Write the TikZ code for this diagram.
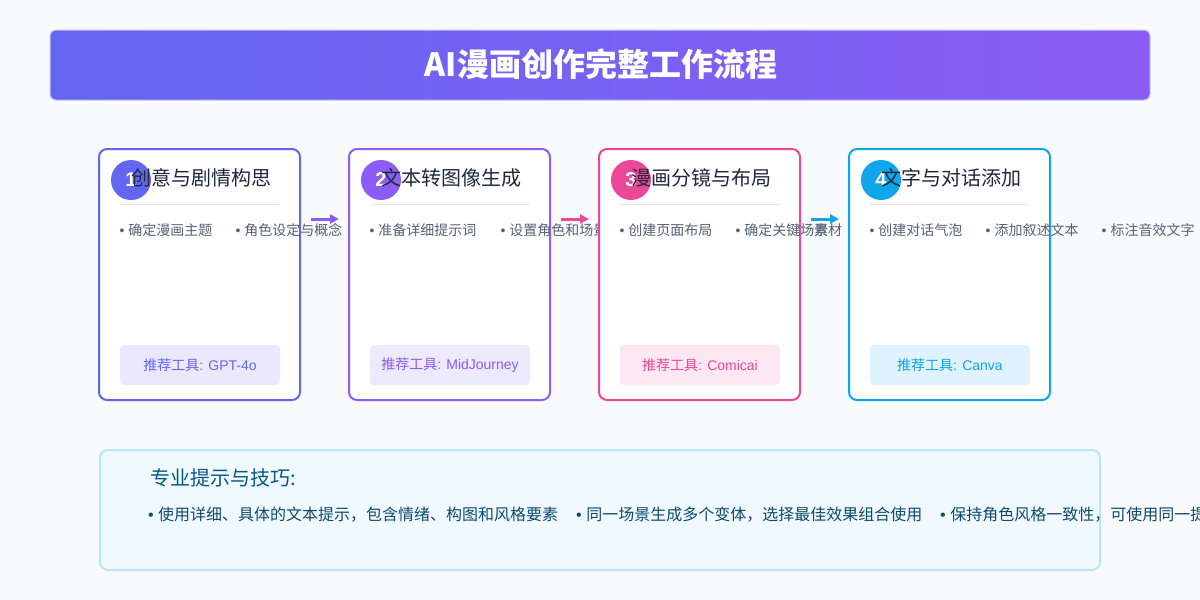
\documentclass[tikz,border=0pt]{standalone}
\usepackage{fontspec}
\setmainfont{Liberation Sans}
\newfontfamily\cjk{Noto Sans CJK SC}
\usetikzlibrary{arrows.meta}
\definecolor{bgc}{HTML}{F8FAFC}
\definecolor{ca}{HTML}{6366F1}
\definecolor{cb}{HTML}{8B5CF6}
\definecolor{cc}{HTML}{EC4899}
\definecolor{cd}{HTML}{0EA5E9}
\definecolor{ta}{HTML}{EBE8FD}
\definecolor{tb}{HTML}{EDE9FE}
\definecolor{tc}{HTML}{FCE7F3}
\definecolor{td}{HTML}{E0F2FE}
\definecolor{titletext}{HTML}{1E293B}
\definecolor{itemtext}{HTML}{556275}
\definecolor{sepc}{HTML}{E2E8F0}
\definecolor{tipfill}{HTML}{F0F9FF}
\definecolor{tipborder}{HTML}{BAE6FD}
\definecolor{tiptitle}{HTML}{075985}
\definecolor{tiptext}{HTML}{0C4A6E}
\definecolor{barborder}{HTML}{C7C4FA}
\tikzset{
  card/.style={draw=#1, line width=2pt, fill=white, rounded corners=8pt,
    minimum width=201pt, minimum height=251pt, inner sep=0pt},
  numdot/.style={circle, fill=#1, minimum size=40pt, inner sep=0pt,
    text=white, font=\bfseries\fontsize{20}{20}\selectfont},
  cardtitle/.style={anchor=west, inner sep=0pt, text=titletext,
    font=\cjk\fontsize{20}{22}\selectfont},
  item/.style={anchor=west, inner sep=0pt, text=itemtext,
    font=\fontsize{14}{16}\selectfont},
  toolbox/.style={fill=#1, rounded corners=4pt, minimum width=160pt,
    minimum height=40pt, inner sep=0pt, font=\fontsize{14}{16}\selectfont},
  flowarrow/.style={draw=#1, line width=3pt,
    -{Triangle[length=9pt,width=9pt]}},
  tipitem/.style={anchor=west, inner sep=0pt, text=tiptext,
    font=\fontsize{16}{18}\selectfont},
}
\newcommand{\bul}[1]{•\ {\cjk #1}}
\begin{document}
\begin{tikzpicture}[x=1pt,y=-1pt]
\fill[bgc] (0,0) rectangle (1200,600);
\useasboundingbox (0,0) rectangle (1200,600);
% title bar
\shade[left color=ca, right color=cb, rounded corners=6pt] (50,30) rectangle (1150,100);
\draw[barborder, line width=1pt, rounded corners=6pt] (50,30) rectangle (1150,100);
\node[text=white, font=\cjk\bfseries\fontsize{32}{34}\selectfont, inner sep=0pt] (title) at (601,64) {AI漫画创作完整工作流程};
% card 1
\node[card=ca] (c1) at (199.5,274.5) {};
\node[numdot=ca] (n1) at (131,180) {1};
\node[cardtitle] (t1) at (131,178) {创意与剧情构思};
\draw[sepc, line width=1.5pt] (120,204.5) -- (280,204.5);
\node[item] (i11) at (119.5,230) {\bul{确定漫画主题}};
\node[item] (i12) at (235.5,230) {\bul{角色设定与概念}};
\node[toolbox=ta, text=ca] (k1) at (200,365) {{\cjk 推荐工具}: GPT-4o};
% card 2
\node[card=cb] (c2) at (449.5,274.5) {};
\node[numdot=cb] (n2) at (381,180) {2};
\node[cardtitle] (t2) at (381,178) {文本转图像生成};
\draw[sepc, line width=1.5pt] (370,204.5) -- (530,204.5);
\node[item] (i21) at (369.5,230) {\bul{准备详细提示词}};
\node[item] (i22) at (500.5,230) {\bul{设置角色和场景}};
\node[toolbox=tb, text=cb] (k2) at (450,365) {{\cjk 推荐工具}: MidJourney};
% card 3
\node[card=cc] (c3) at (699.5,274.5) {};
\node[numdot=cc] (n3) at (631,180) {3};
\node[cardtitle] (t3) at (631,178) {漫画分镜与布局};
\draw[sepc, line width=1.5pt] (620,204.5) -- (780,204.5);
\node[item] (i31) at (619.5,230) {\bul{创建页面布局}};
\node[item] (i32) at (735.5,230) {\bul{确定关键场景}};
\node[item, font=\cjk\fontsize{14}{16}\selectfont] (i2tail) at (814,230) {素材};
\node[toolbox=tc, text=cc] (k3) at (700,365) {{\cjk 推荐工具}: Comicai};
% card 4
\node[card=cd] (c4) at (949.5,274.5) {};
\node[numdot=cd] (n4) at (881,180) {4};
\node[cardtitle] (t4) at (881,178) {文字与对话添加};
\draw[sepc, line width=1.5pt] (870,204.5) -- (1030,204.5);
\node[item] (i41) at (869.5,230) {\bul{创建对话气泡}};
\node[item] (i42) at (985.5,230) {\bul{添加叙述文本}};
\node[item] (i43) at (1101.5,230) {\bul{标注音效文字}};
\node[toolbox=td, text=cd] (k4) at (950,365) {{\cjk 推荐工具}: Canva};
% arrows
\draw[flowarrow=cb] ([shift={(10,-55.5)}]c1.east) -- ([shift={(-9,-55.5)}]c2.west);
\draw[flowarrow=cc] ([shift={(10,-55.5)}]c2.east) -- ([shift={(-9,-55.5)}]c3.west);
\draw[flowarrow=cd] ([shift={(10,-55.5)}]c3.east) -- ([shift={(-9,-55.5)}]c4.west);
% tips
\node[draw=tipborder, fill=tipfill, line width=2pt, rounded corners=8pt,
  minimum width=1000pt, minimum height=120pt, inner sep=0pt] (tips) at (600,510) {};
\node[anchor=west, inner sep=0pt, text=tiptitle, font=\cjk\fontsize{20}{22}\selectfont] (tt) at (150,478) {专业提示与技巧:};
\node[tipitem] (p1) at (148,515) {\bul{使用详细、具体的文本提示，包含情绪、构图和风格要素}};
\node[tipitem] (p2) at (576,515) {\bul{同一场景生成多个变体，选择最佳效果组合使用}};
\node[tipitem] (p3) at (940,515) {\bul{保持角色风格一致性，可使用同一提示词}};
\end{tikzpicture}
\end{document}
